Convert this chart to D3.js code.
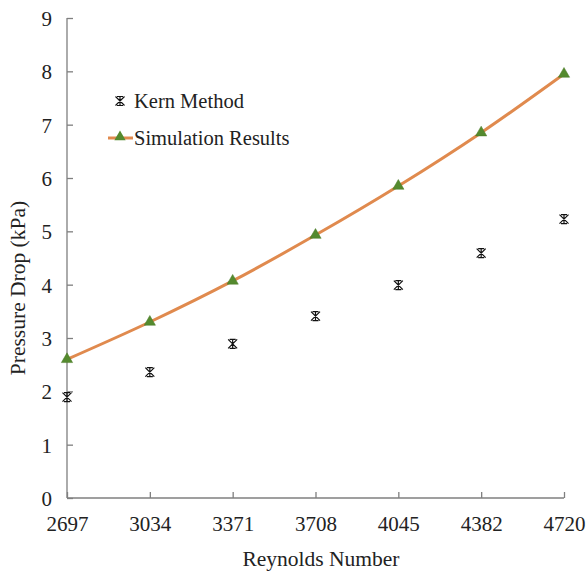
<!DOCTYPE html>
<html><head><meta charset="utf-8">
<script src="https://cdn.jsdelivr.net/npm/d3@7"></script>
<style>body{margin:0;background:#fff}svg{display:block}text{font-family:"Liberation Serif","DejaVu Serif",serif}</style>
</head><body>
<svg id="c" width="587" height="575"></svg>
<script>
const categories = ["2697","3034","3371","3708","4045","4382","4720"];
const kernValues = [1.89, 2.36, 2.89, 3.41, 3.99, 4.59, 5.23];
const simValues = [2.60, 3.30, 4.07, 4.93, 5.85, 6.85, 7.95];
const yTicks = [0,1,2,3,4,5,6,7,8,9];

const svg = d3.select("#c");
const font = "Liberation Serif";
const axisColor = "#7f7f7f";
const x = d3.scalePoint().domain(categories).range([67, 564]);
const y = d3.scaleLinear().domain([0, 9]).range([498, 18]);

// y axis
const ya = svg.append("g").attr("transform","translate(67,0)")
  .call(d3.axisRight(y).tickValues(yTicks).tickSize(6).tickFormat(d3.format("d")));
ya.attr("font-family",null).attr("font-size",null);
ya.select(".domain").attr("stroke", axisColor).attr("stroke-width",1.3).attr("d","M0,18V498");
ya.selectAll(".tick line").attr("stroke", axisColor).attr("stroke-width",1.3);
ya.selectAll(".tick text").attr("x",-15).attr("text-anchor","end").attr("dy","0.35em")
  .style("font-family",font).style("font-size","21px").attr("fill","#222");

// x axis
const xa = svg.append("g").attr("transform","translate(0,498)")
  .call(d3.axisTop(x).tickSize(6));
xa.attr("font-family",null).attr("font-size",null);
xa.select(".domain").attr("stroke", axisColor).attr("stroke-width",1.3).attr("d","M67,0H564");
xa.selectAll(".tick line").attr("stroke", axisColor).attr("stroke-width",1.3);
xa.selectAll(".tick text").attr("y",33).attr("dy",0)
  .style("font-family",font).style("font-size","21px").attr("fill","#222");

// axis titles
svg.append("text").attr("x",321).attr("y",566).attr("text-anchor","middle")
  .style("font-family",font).style("font-size","21.5px").attr("fill","#222").text("Reynolds Number");
svg.append("text").attr("transform","translate(25,288) rotate(-90)").attr("text-anchor","middle")
  .style("font-family",font).style("font-size","21.5px").attr("fill","#222").text("Pressure Drop (kPa)");

// simulation line
const line = d3.line().x((d,i)=>x(categories[i])).y(d=>y(d)).curve(d3.curveMonotoneX);
svg.append("path").datum(simValues).attr("d",line).attr("fill","none")
  .attr("stroke","#e08a4e").attr("stroke-width",3);

const tri = d3.symbol().type(d3.symbolTriangle).size(55);
svg.append("g").selectAll("path").data(simValues).join("path")
  .attr("transform",(d,i)=>`translate(${x(categories[i])},${y(d)})`)
  .attr("d",tri).attr("fill","#548a2e").attr("stroke","#4a7a28").attr("stroke-width",0.5);

// kern star markers
function star(g, cx, cy){
  const s = 4.5;
  g.append("path").attr("d",`M${cx-s},${cy-s}L${cx+s},${cy+s}M${cx-s},${cy+s}L${cx+s},${cy-s}M${cx},${cy-s}L${cx},${cy+s}M${cx-3},${cy-s}H${cx+3}M${cx-3},${cy+s}H${cx+3}`)
   .attr("stroke","#111").attr("stroke-width",1.2).attr("fill","none");
}
const kg = svg.append("g");
kernValues.forEach((v,i)=>star(kg, x(categories[i]), y(v)));

// legend
const lg = svg.append("g");
star(lg, 120, 101);
lg.append("text").attr("x",134).attr("y",108).style("font-family",font).style("font-size","20.5px")
  .attr("fill","#222").text("Kern Method");
lg.append("line").attr("x1",108).attr("x2",133).attr("y1",138).attr("y2",138)
  .attr("stroke","#e08a4e").attr("stroke-width",3);
lg.append("path").attr("transform","translate(120,137)").attr("d",tri)
  .attr("fill","#548a2e");
lg.append("text").attr("x",134).attr("y",145).style("font-family",font).style("font-size","20.5px")
  .attr("fill","#222").text("Simulation Results");
</script>
</body></html>
